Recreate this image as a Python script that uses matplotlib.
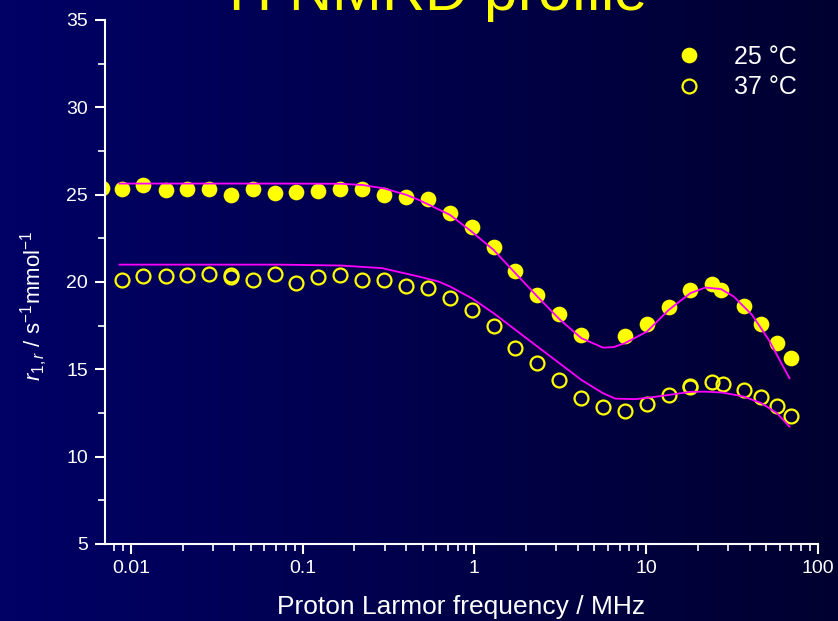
"""Recreates the 1H NMRD profile chart (25 and 37 degC) on a dark blue backdrop."""
import numpy as np
import matplotlib
matplotlib.use("Agg")
import matplotlib.pyplot as plt
from matplotlib.ticker import MultipleLocator, LogLocator, FixedLocator, FixedFormatter, NullFormatter
from matplotlib.colors import LinearSegmentedColormap
from matplotlib.lines import Line2D

plt.rcParams["font.family"] = ["Liberation Sans", "DejaVu Sans"]
plt.rcParams["mathtext.fontset"] = "custom"
plt.rcParams["mathtext.rm"] = "Liberation Sans"
plt.rcParams["mathtext.it"] = "Liberation Sans:italic"

# measured points, proton Larmor frequency (MHz) vs relaxivity
freq_25 = [0.00675, 0.00883, 0.0118, 0.0160, 0.0213, 0.0284, 0.0382, 0.0512, 0.0687,
           0.0919, 0.123, 0.166, 0.223, 0.299, 0.398, 0.537, 0.721, 0.964, 1.295,
           1.733, 2.328, 3.126, 4.199, 7.50, 10.12, 13.54, 18.11, 24.32, 27.31,
           37.0, 46.9, 57.8, 70.2]
r1_25 = [25.38, 25.33, 25.54, 25.27, 25.31, 25.31, 24.97, 25.31, 25.11,
         25.15, 25.19, 25.34, 25.33, 24.97, 24.85, 24.75, 23.97, 23.15, 21.99,
         20.63, 19.28, 18.17, 16.99, 16.91, 17.60, 18.55, 19.53, 19.89, 19.55,
         18.65, 17.58, 16.53, 15.65]

freq_37 = [0.00883, 0.0118, 0.0160, 0.0213, 0.0284, 0.0382, 0.0382, 0.0512, 0.0687,
           0.0919, 0.123, 0.166, 0.223, 0.299, 0.398, 0.537, 0.721, 0.964, 1.295,
           1.733, 2.328, 3.126, 4.199, 5.61, 7.50, 10.12, 13.54, 18.11, 18.11,
           24.32, 27.9, 37.0, 46.9, 57.8, 70.2]
r1_37 = [20.13, 20.35, 20.35, 20.39, 20.44, 20.39, 20.30, 20.12, 20.44,
         19.93, 20.29, 20.40, 20.12, 20.10, 19.79, 19.64, 19.10, 18.40, 17.50,
         16.24, 15.38, 14.41, 13.36, 12.85, 12.64, 13.02, 13.52, 13.97, 14.05,
         14.26, 14.16, 13.82, 13.44, 12.89, 12.33]

# fitted curves
fit_freq_25 = [0.00859, 0.0248, 0.0724, 0.166, 0.223, 0.299, 0.398, 0.474, 0.721,
               0.964, 1.295, 1.733, 2.328, 3.126, 4.199, 5.61, 6.47, 7.50, 10.12,
               13.54, 18.11, 22.15, 27.31, 32.4, 41.4, 51.8, 68.3]
fit_r1_25 = [25.63, 25.63, 25.63, 25.62, 25.55, 25.35, 25.00, 24.70, 23.84,
             22.88, 21.83, 20.50, 19.16, 17.87, 16.78, 16.24, 16.27, 16.49, 17.16,
             18.40, 19.36, 19.68, 19.59, 19.16, 18.11, 16.68, 14.49]

fit_freq_37 = [0.00859, 0.0724, 0.166, 0.290, 0.474, 0.620, 0.721, 0.964, 1.295,
               1.733, 2.328, 3.126, 4.199, 5.61, 6.62, 8.66, 10.82, 13.54, 18.11,
               22.15, 27.7, 37.0, 46.9, 57.8, 68.3]
fit_r1_37 = [20.99, 20.99, 20.94, 20.79, 20.31, 20.02, 19.74, 19.07, 18.21,
             17.26, 16.30, 15.35, 14.39, 13.63, 13.32, 13.29, 13.40, 13.53, 13.71,
             13.72, 13.67, 13.44, 13.06, 12.49, 11.72]

x_ticks = [0.01, 0.1, 1, 10, 100]
x_tick_labels = ["0.01", "0.1", "1", "10", "100"]
series_labels = ["25 °C", "37 °C"]

YELLOW = "#ffff00"
MAGENTA = "#ff00ff"
WHITE = "#ffffff"

fig = plt.figure(figsize=(8.38, 6.21), dpi=100)

# gradient backdrop, navy on the left fading darker to the right
bg = fig.add_axes([0, 0, 1, 1], zorder=0)
bg_cmap = LinearSegmentedColormap.from_list("bg", ["#000066", "#000030"])
bg.imshow(np.linspace(0, 1, 256).reshape(1, -1), aspect="auto", cmap=bg_cmap,
          extent=[0, 1, 0, 1])
bg.set_axis_off()

ax = fig.add_axes([0.125, 0.124, 0.851, 0.844], zorder=1)
ax.patch.set_alpha(0)

ax.plot(fit_freq_25, fit_r1_25, color=MAGENTA, linewidth=1.3, zorder=3)
ax.plot(fit_freq_37, fit_r1_37, color=MAGENTA, linewidth=1.3, zorder=3)
ax.plot(freq_25, r1_25, "o", color=YELLOW, markersize=11.3, markeredgewidth=0,
        zorder=2)
ax.plot(freq_37, r1_37, "o", markerfacecolor="none", markeredgecolor=YELLOW,
        markersize=10, markeredgewidth=1.6, zorder=2)

ax.set_xscale("log")
ax.set_xlim(0.00705, 100)
ax.set_ylim(5, 35)

ax.xaxis.set_major_locator(FixedLocator(x_ticks))
ax.xaxis.set_major_formatter(FixedFormatter(x_tick_labels))
ax.xaxis.set_minor_locator(LogLocator(base=10, subs=np.arange(2, 10), numticks=20))
ax.xaxis.set_minor_formatter(NullFormatter())
ax.yaxis.set_major_locator(MultipleLocator(5))
ax.yaxis.set_minor_locator(MultipleLocator(2.5))

for side in ("top", "right"):
    ax.spines[side].set_visible(False)
for side in ("left", "bottom"):
    ax.spines[side].set_color(WHITE)
    ax.spines[side].set_linewidth(1.5)

ax.tick_params(which="major", direction="out", length=7.2, width=1.5,
               colors=WHITE, labelsize=14)
ax.tick_params(which="minor", direction="out", length=4.7, width=1.2, colors=WHITE)
ax.tick_params(axis="x", which="major", pad=4)
ax.tick_params(axis="y", which="major", pad=5)

ax.set_xlabel("Proton Larmor frequency / MHz", color=WHITE, fontsize=19)
ax.xaxis.set_label_coords(0.5, -0.097)
ax.set_ylabel("$r_{1,r}$ / s$^{-1}$mmol$^{-1}$", color=WHITE, fontsize=16)
ax.yaxis.set_label_coords(-0.077, 0.455)

handles = [
    Line2D([], [], linestyle="none", marker="o", color=YELLOW, markersize=11.3,
           markeredgewidth=0),
    Line2D([], [], linestyle="none", marker="o", markerfacecolor="none",
           markeredgecolor=YELLOW, markersize=10, markeredgewidth=1.6),
]
leg = ax.legend(handles, series_labels, loc="upper right", bbox_to_anchor=(0.985, 0.971),
                borderaxespad=0, frameon=False, fontsize=18, handletextpad=0.8,
                labelspacing=0.25)
for text in leg.get_texts():
    text.set_color(WHITE)

fig.text(0.506, 0.982, "$^{1}$H NMRD profile", color=YELLOW, fontsize=43,
         ha="center", va="baseline")

fig.savefig("out.png", dpi=100, facecolor=fig.get_facecolor())
plt.close(fig)
